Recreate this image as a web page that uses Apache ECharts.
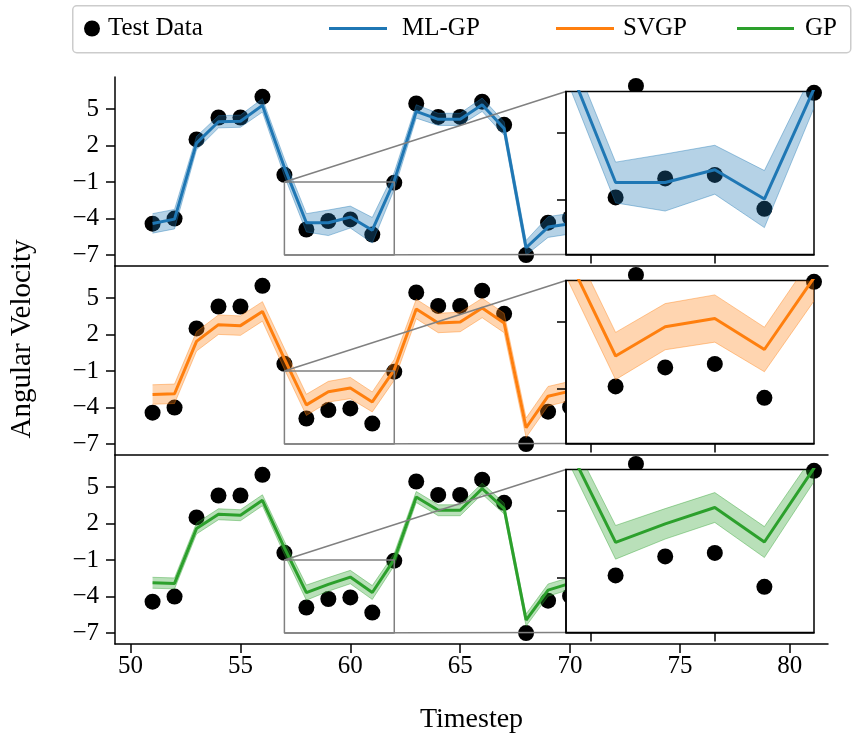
<!DOCTYPE html>
<html><head><meta charset="utf-8">
<script src="https://cdn.jsdelivr.net/npm/echarts@6/dist/echarts.min.js"></script>
<style>html,body{margin:0;padding:0;background:#fff}#c{width:853px;height:738px}</style>
</head><body><div id="c"></div>
<script>
// ---- data ----
const timesteps = [51,52,53,54,55,56,57,58,59,60,61,62,63,64,65,66,67,68,69,70];
const testX = [51,52,53,54,55,56,57,58,59,60,61,62,63,64,65,66,67,68,69,70,73];
const testY = [-4.42,-4.0,2.5,4.3,4.3,6.0,-0.41,-4.9,-4.2,-4.07,-5.32,-1.05,5.45,4.35,4.35,5.6,3.7,-7.0,-4.34,-3.95,6.9];
const mlgpMean   = [-4.4,-4.05,2.2,3.95,4.0,5.3,0.2,-4.35,-4.35,-3.88,-4.96,-0.9,4.8,4.15,4.15,5.35,3.4,-6.4,-4.7,-4.42];
const mlgpSpread = [0.8,0.8,0.55,0.5,0.5,0.55,0.7,0.75,1.05,0.9,1.05,0.7,0.55,0.5,0.5,0.55,0.55,0.6,0.85,0.85];
const svgpMean   = [-2.93,-2.87,1.44,2.81,2.73,3.9,0.0,-3.78,-2.7,-2.4,-3.54,-0.9,4.1,2.95,3.03,4.18,2.95,-5.66,-3.07,-2.65];
const svgpSpread = [0.8,0.8,0.8,0.8,0.8,0.8,0.85,0.87,0.85,0.87,0.82,0.85,0.8,0.8,0.8,0.8,0.8,0.8,0.8,0.8];
const gpMean     = [-2.87,-2.92,1.59,2.76,2.68,3.91,0.0,-3.68,-3.0,-2.4,-3.67,-0.95,4.18,3.09,3.09,4.87,3.23,-5.93,-3.47,-2.92];
const gpSpread   = [0.45,0.45,0.45,0.45,0.45,0.45,0.55,0.62,0.56,0.55,0.57,0.5,0.45,0.45,0.45,0.45,0.45,0.5,0.5,0.5];
const methodNames = ['ML-GP','SVGP','GP'];
const methodColors = ['#1f77b4','#ff7f0e','#2ca02c'];
const methodFill = ['rgba(31,119,180,0.33)','rgba(255,127,14,0.33)','rgba(44,160,44,0.33)'];
const methodEdge = ['rgba(31,119,180,0.4)','rgba(255,127,14,0.4)','rgba(44,160,44,0.4)'];
const yTicks = [5,2,-1,-4,-7];
const xTicks = [50,55,60,65,70,75,80];
const zoomX = [57,62];
const zoomY = [-7,-1];
const insetXTicks = [57.5,60];
const insetYTicks = [-2.5,-5];
const xRange = [49.29,81.74];
const yRange = [-7.9,7.63];

// ---- layout ----
const FONT = 'Liberation Serif';
const FS = 25;      // tick + legend text
const FL = 28;      // axis titles
const panelTops = [77,266,455];
const panelH = 189;
const mainLeft = 115, mainW = 713;
const insetLeft = 566, insetW = 248, insetOff = 14.5, insetH = 163;

const means = [mlgpMean, svgpMean, gpMean];
const spreads = [mlgpSpread, svgpSpread, gpSpread];
const minusFmt = v => String(v).replace('-', '\u2212');

const grids = [], xAxes = [], yAxes = [], series = [];
for (let p = 0; p < 3; p++) {
  grids.push({left: mainLeft, width: mainW, top: panelTops[p], height: panelH, containLabel: false});
}
for (let p = 0; p < 3; p++) {
  grids.push({left: insetLeft, width: insetW, top: panelTops[p] + insetOff, height: insetH,
    show: true, backgroundColor: '#fff', borderColor: '#000', borderWidth: 1.5, z: 5});
}
for (let p = 0; p < 3; p++) {
  const bottom = p === 2;
  xAxes.push({type: 'value', gridIndex: p, min: xRange[0], max: xRange[1], position: 'bottom',
    axisLine: {show: true, onZero: false, lineStyle: {color: '#000', width: 1.5}},
    axisTick: {show: bottom, length: 9, lineStyle: {color: '#000', width: 1.5}, customValues: xTicks},
    axisLabel: {show: bottom, customValues: xTicks, margin: 10, color: '#000', fontFamily: FONT, fontSize: FS},
    splitLine: {show: false},
    name: bottom ? 'Timestep' : '', nameLocation: 'middle', nameGap: 62,
    nameTextStyle: {color: '#000', fontFamily: FONT, fontSize: FL}});
  yAxes.push({type: 'value', gridIndex: p, min: yRange[0], max: yRange[1],
    axisLine: {show: true, onZero: false, lineStyle: {color: '#000', width: 1.5}},
    axisTick: {show: true, length: 9, lineStyle: {color: '#000', width: 1.5}, customValues: yTicks},
    axisLabel: {show: true, customValues: yTicks, margin: 16, color: '#000', fontFamily: FONT, fontSize: FS, formatter: minusFmt},
    splitLine: {show: false}});
}
for (let p = 0; p < 3; p++) {
  xAxes.push({type: 'value', gridIndex: 3 + p, min: zoomX[0], max: zoomX[1], z: 9,
    axisLine: {show: true, onZero: false, lineStyle: {color: '#000', width: 1.5}},
    axisTick: {show: true, length: 9, lineStyle: {color: '#000', width: 1.5}, customValues: insetXTicks},
    axisLabel: {show: false}, splitLine: {show: false}});
  yAxes.push({type: 'value', gridIndex: 3 + p, min: zoomY[0], max: zoomY[1], z: 9,
    axisLine: {show: true, onZero: false, lineStyle: {color: '#000', width: 1.5}},
    axisTick: {show: true, length: 9, lineStyle: {color: '#000', width: 1.5}, customValues: insetYTicks},
    axisLabel: {show: false}, splitLine: {show: false}});
}

const testPts = testX.map((x, i) => [x, testY[i]]);
function addPanel(p, axisIdx, inset) {
  const zb = inset ? 6 : 1;
  const m = means[p], s = spreads[p];
  const bandPts = timesteps.map((x, i) => [x, m[i] - s[i], m[i] + s[i]]);
  series.push({type: 'scatter', name: 'Test Data', xAxisIndex: axisIdx, yAxisIndex: axisIdx,
    data: testPts, symbolSize: 16, itemStyle: {color: '#000', opacity: 1}, clip: inset, z: zb,
    emphasis: {disabled: true}, silent: true});
  series.push({type: 'custom', name: '_band' + axisIdx, xAxisIndex: axisIdx, yAxisIndex: axisIdx,
    data: bandPts, encode: {x: 0, y: [1, 2]}, z: zb + 1, silent: true, clip: true,
    renderItem: function (params, api) {
      if (params.dataIndex !== 0) return null;
      const up = bandPts.map(d => api.coord([d[0], d[2]]));
      const lo = bandPts.map(d => api.coord([d[0], d[1]]));
      const cs = params.coordSys;
      return {type: 'group',
        clipPath: {type: 'rect', shape: {x: cs.x, y: cs.y, width: cs.width, height: cs.height}},
        children: [
          {type: 'polygon', shape: {points: up.concat(lo.slice().reverse())}, style: {fill: methodFill[p], stroke: null}},
          {type: 'polyline', shape: {points: up}, style: {stroke: methodEdge[p], lineWidth: 1, fill: null}},
          {type: 'polyline', shape: {points: lo}, style: {stroke: methodEdge[p], lineWidth: 1, fill: null}}
        ]};
    }});
  series.push({type: 'line', name: methodNames[p], color: methodColors[p], xAxisIndex: axisIdx, yAxisIndex: axisIdx,
    data: timesteps.map((x, i) => [x, m[i]]), showSymbol: false, symbol: 'none',
    lineStyle: {color: methodColors[p], width: 3}, z: zb + 2, silent: true, clip: true});
  if (!inset) {
    series.push({type: 'line', name: '_rect' + p, xAxisIndex: axisIdx, yAxisIndex: axisIdx,
      data: [[zoomX[0], zoomY[1]], [zoomX[1], zoomY[1]], [zoomX[1], zoomY[0]], [zoomX[0], zoomY[0]], [zoomX[0], zoomY[1]]],
      showSymbol: false, symbol: 'none', lineStyle: {color: '#808080', width: 1.5}, z: 4, silent: true, clip: false});
  }
}
for (let p = 0; p < 3; p++) { addPanel(p, p, false); addPanel(p, 3 + p, true); }

const legendText = {color: '#000', fontFamily: FONT, fontSize: FS};
const legends = [
  {data: [{name: 'Test Data', icon: 'circle'}], left: 84, top: 16, itemWidth: 16, itemHeight: 16,
   textStyle: Object.assign({padding: [0, 0, 0, 3]}, legendText)},
  {data: [{name: 'ML-GP', icon: 'rect'}], left: 329, top: 16, itemWidth: 58, itemHeight: 3,
   textStyle: Object.assign({padding: [0, 0, 0, 10]}, legendText)},
  {data: [{name: 'SVGP', icon: 'rect'}], left: 556, top: 16, itemWidth: 58, itemHeight: 3,
   textStyle: Object.assign({padding: [0, 0, 0, 4]}, legendText)},
  {data: [{name: 'GP', icon: 'rect'}], left: 737, top: 16, itemWidth: 57, itemHeight: 3,
   textStyle: Object.assign({padding: [0, 0, 0, 6]}, legendText)}
].map(l => Object.assign({selectedMode: false, padding: 0, itemGap: 0}, l));

const chart = echarts.init(document.getElementById('c'), null, {renderer: 'canvas'});
const baseGraphic = [
  {id: 'legendBox', type: 'rect', left: 72, top: 5, shape: {width: 778, height: 47, r: 4}, z: 0,
   style: {fill: '#fff', stroke: '#cccccc', lineWidth: 1.5}},
  {id: 'ylabel', type: 'text', x: 22, y: 339, rotation: Math.PI / 2,
   style: {text: 'Angular Velocity', fill: '#000', fontSize: 29, fontFamily: FONT, fontWeight: 'normal',
           textAlign: 'center', textVerticalAlign: 'middle'}}
];
chart.setOption({
  animation: false,
  backgroundColor: '#fff',
  grid: grids, xAxis: xAxes, yAxis: yAxes, series: series, legend: legends,
  graphic: baseGraphic
});

// connector lines of the zoom marks (positions from the library's own coordinate conversion)
const conn = [];
for (let p = 0; p < 3; p++) {
  const a = chart.convertToPixel({gridIndex: p}, [zoomX[0], zoomY[1]]);
  const b = chart.convertToPixel({gridIndex: 3 + p}, [zoomX[0], zoomY[1]]);
  const c = chart.convertToPixel({gridIndex: p}, [zoomX[0], zoomY[0]]);
  const d = chart.convertToPixel({gridIndex: 3 + p}, [zoomX[0], zoomY[0]]);
  [[a, b], [c, d]].forEach(([u, v], k) => conn.push({id: 'conn' + p + '_' + k, type: 'line', z: 4, silent: true,
    shape: {x1: u[0], y1: u[1], x2: v[0], y2: v[1]}, style: {stroke: '#808080', lineWidth: 1.5}}));
}
chart.setOption({graphic: baseGraphic.concat(conn)});
</script></body></html>
